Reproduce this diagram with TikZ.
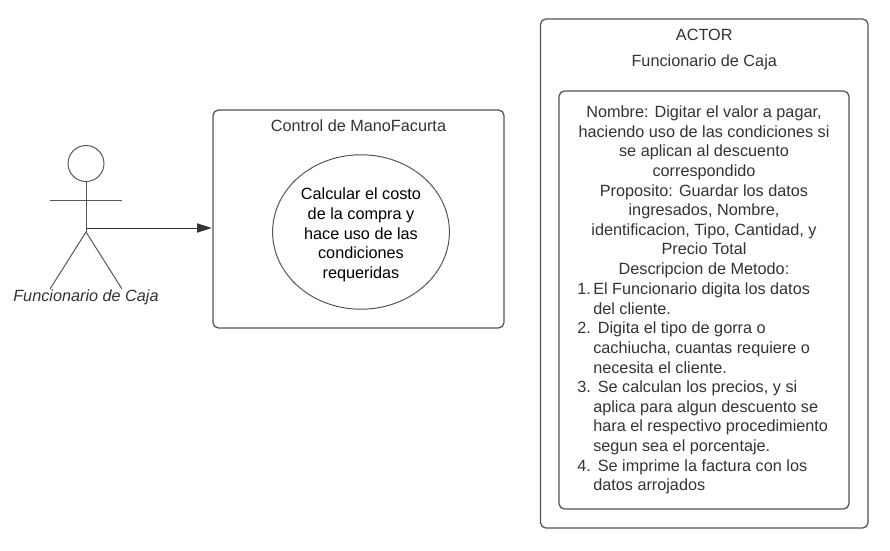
\documentclass[tikz,border=0pt]{standalone}
\usepackage{fontspec}
\setmainfont{Liberation Sans}
\usepackage{tikz}
\usetikzlibrary{arrows.meta, positioning, shapes.geometric, calc}
\definecolor{myline}{RGB}{85,85,85}
\definecolor{mytext}{RGB}{51,51,51}
\newcommand{\numitem}[1]{\makebox[0.4cm][l]{#1}}
\tikzset{
    panel/.style={draw=myline,line width=0.9pt,rounded corners=0.14cm,inner sep=0pt},
    stickline/.style={draw=myline,line width=0.7pt},
    plaintext/.style={font=\fontsize{11.55}{13.96}\selectfont,text=mytext,inner sep=0pt,align=center},
}
\begin{document}
\begin{tikzpicture}[x=0.025cm,y=-0.025cm]
    \useasboundingbox (0,0) rectangle (890,551);

    % Actor
    \node[circle,stickline,minimum size=0.9cm,inner sep=0pt] (head) at (86,163.5) {};
    \coordinate (hip) at (86,232);
    \coordinate (armL) at (50,200);
    \coordinate (armR) at (122,200);
    \coordinate (legL) at (50,289);
    \coordinate (legR) at (122,289);
    \draw[stickline] (head.south) -- (hip);
    \draw[stickline] (armL) -- (armR);
    \draw[stickline] (legL) -- (hip) -- (legR);
    \node[plaintext,font=\fontsize{11.55}{13.96}\selectfont\itshape] (actorname) at (86,297.5) {Funcionario de Caja};

    % Control
    \node[panel,minimum width=7.275cm,minimum height=5.45cm] (control) at (358.5,219) {};
    \node[plaintext] (controltitle) at (358.5,126) {Control de ManoFacurta};
    \node[ellipse,stickline,minimum width=4.42cm,minimum height=3.86cm,inner sep=0pt] (usecase) at (361,232) {};
    \node[plaintext,text=black] (usecasetext) at (361,235) {Calcular el costo\\de la compra y\\hace uso de las\\condiciones\\requeridas};

    % Arrows
    \coordinate (hand) at (86,228);
    \draw[stickline,draw=mytext,-{Triangle[length=0.36cm,width=0.23cm]},shorten >=0.5pt] (hand) -- (hand -| control.west);

    % Actor card
    \node[panel,minimum width=8.19cm,minimum height=12.725cm] (card) at (704.25,273.5) {};
    \node[plaintext] (cardtitle) at (704.25,35) {ACTOR};
    \node[plaintext] (cardname) at (704.25,62) {Funcionario de Caja};
    \node[panel,minimum width=7.25cm,minimum height=10.45cm] (method) at (704,300) {};
    \node[plaintext,anchor=north] (methodhead) at (704,105.5) {Nombre: Digitar el valor a pagar,\\haciendo uso de las condiciones si\\se aplican al descuento\\correspondido\\Proposito: Guardar los datos\\ingresados, Nombre,\\identificacion, Tipo, Cantidad, y\\Precio Total\\Descripcion de Metodo:};
    \node[plaintext,align=left,anchor=north west] (methodsteps) at (577,282.5) {\numitem{1.}El Funcionario digita los datos\\\numitem{}del cliente.\\\numitem{2.}\ Digita el tipo de gorra o\\\numitem{}cachiucha, cuantas requiere o\\\numitem{}necesita el cliente.\\\numitem{3.}\ Se calculan los precios, y si\\\numitem{}aplica para algun descuento se\\\numitem{}hara el respectivo procedimiento\\\numitem{}segun sea el porcentaje.\\\numitem{4.}\ Se imprime la factura con los\\\numitem{}datos arrojados};
\end{tikzpicture}
\end{document}
